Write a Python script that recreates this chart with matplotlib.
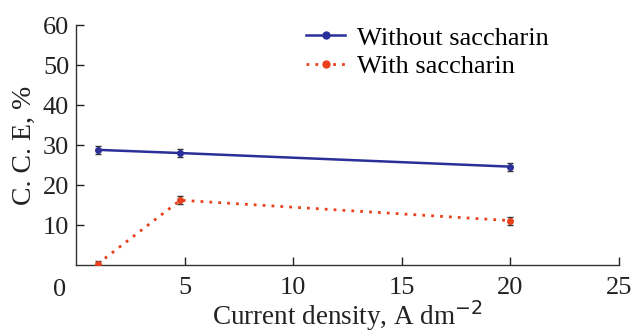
import matplotlib
matplotlib.use("Agg")
import matplotlib.pyplot as plt
from matplotlib.lines import Line2D

x_without = [1, 4.8, 20]
y_without = [28.8, 28.0, 24.6]
err_without = [1.0, 1.0, 1.0]

x_with = [1, 4.8, 20]
y_with = [0.3, 16.2, 11.1]
err_with = [0.6, 1.0, 1.0]

plt.rcParams['font.family'] = ['Liberation Serif', 'DejaVu Serif']

fig = plt.figure(figsize=(6.34, 3.35), dpi=100)
ax = fig.add_axes([0.12, 0.209, 0.856, 0.716])

blue = '#2b2f9a'
red = '#e8401c'

ax.errorbar(x_without, y_without, yerr=err_without, color=blue, lw=1.8,
            marker='o', ms=4, ecolor='#333333', elinewidth=1, capsize=2.5,
            capthick=1, zorder=3)
ax.errorbar(x_with, y_with, yerr=err_with, color=red, lw=2, ls=(0, (1, 2.2)),
            marker='o', ms=4, ecolor='#333333', elinewidth=1, capsize=2.5,
            capthick=1, zorder=3)

ax.set_xlim(0, 25)
ax.set_ylim(0, 60)
ax.set_xticks([5, 10, 15, 20, 25])
ax.set_yticks([10, 20, 30, 40, 50, 60])
ax.tick_params(direction='in', length=6, width=1, labelsize=19, colors='#222222')
ax.tick_params(axis='x', pad=9)
ax.tick_params(axis='y', pad=5)
ax.spines['top'].set_visible(False)
ax.spines['right'].set_visible(False)
for s in ['left', 'bottom']:
    ax.spines[s].set_linewidth(1)
    ax.spines[s].set_color('#333333')

ax.text(-0.45, -3.4, '0', fontsize=19, color='#222222', ha='right', va='top')

ax.set_xlabel('Current density, A dm$^{-2}$', fontsize=19.5, color='#222222', labelpad=-1)
ax.set_ylabel('C. C. E, %', fontsize=20, color='#222222', labelpad=4)

handles = [
    Line2D([], [], color=blue, lw=1.8, marker='o', ms=5),
    Line2D([], [], color=red, lw=2, ls=(0, (1, 2.2)), marker='o', ms=5),
]
ax.legend(handles, ['Without saccharin', 'With saccharin'], loc='upper left',
          bbox_to_anchor=(0.405, 1.04), frameon=False, fontsize=19,
          handlelength=1.45, handletextpad=0.45, labelspacing=0.2,
          borderaxespad=0)

fig.savefig('out.png', dpi=100)
